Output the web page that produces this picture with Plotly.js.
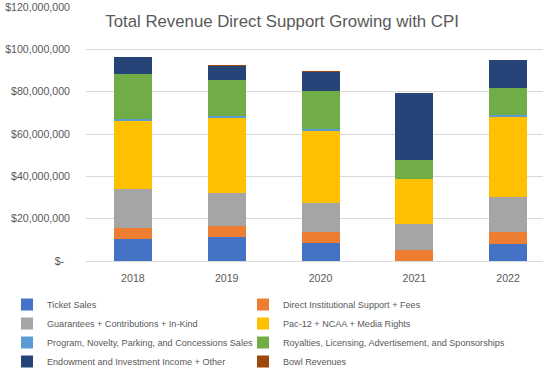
<!DOCTYPE html>
<html>
<head>
<meta charset="utf-8">
<script src="https://cdn.plot.ly/plotly-3.0.1.min.js"></script>
<style>html,body{margin:0;padding:0;background:#fff;}#chart{width:543px;height:382px;}</style>
</head>
<body>
<div id="chart"></div>
<script>
const years = ['2018', '2019', '2020', '2021', '2022'];
const ticketSales = [10.4e6, 11.3e6, 8.5e6, 0, 8.0e6];
const directSupport = [5.2e6, 5.2e6, 5.2e6, 5.2e6, 5.7e6];
const guarantees = [18.4e6, 15.7e6, 13.7e6, 12.3e6, 16.6e6];
const pac12Media = [32.2e6, 35.4e6, 34.1e6, 21.3e6, 37.8e6];
const programSales = [0.9e6, 0.95e6, 0.9e6, 0, 0.9e6];
const royalties = [21.3e6, 17.0e6, 18.0e6, 9.0e6, 12.8e6];
const endowment = [8.1e6, 6.6e6, 9.0e6, 31.6e6, 13.2e6];
const bowlRevenues = [0, 0.5e6, 0.5e6, 0, 0];

const seriesNames = [
  'Ticket Sales',
  'Direct Institutional Support + Fees',
  'Guarantees + Contributions + In-Kind',
  'Pac-12 + NCAA + Media Rights',
  'Program, Novelty, Parking, and Concessions Sales',
  'Royalties, Licensing, Advertisement, and Sponsorships',
  'Endowment and Investment Income + Other',
  'Bowl Revenues'
];
const seriesValues = [ticketSales, directSupport, guarantees, pac12Media, programSales, royalties, endowment, bowlRevenues];
const seriesColors = ['#4472C4', '#ED7D31', '#A5A5A5', '#FFC000', '#5B9BD5', '#70AD47', '#264478', '#9E480E'];

const tickVals = [0, 20e6, 40e6, 60e6, 80e6, 100e6, 120e6];
const tickText = ['$-\u00a0\u00a0', '$20,000,000', '$40,000,000', '$60,000,000', '$80,000,000', '$100,000,000', '$120,000,000'];

// legend column: even-indexed series in the left column, odd in the right
const traces = seriesNames.map((name, i) => ({
  type: 'bar',
  name: name,
  x: years,
  y: seriesValues[i],
  width: 0.405,
  legend: (i % 2 === 0) ? 'legend' : 'legend2',
  marker: {color: seriesColors[i], line: {width: 0}},
  hoverinfo: 'x+y+name'
}));

const font = 'Liberation Sans, Arial, sans-serif';
const legendFont = {family: font, size: 9.1, color: '#595959'};
const layout = {
  width: 543,
  height: 382,
  barmode: 'stack',
  paper_bgcolor: '#ffffff',
  plot_bgcolor: '#ffffff',
  margin: {l: 86, r: 0, t: 7, b: 121},
  title: {
    text: 'Total Revenue Direct Support Growing with CPI',
    font: {family: font, size: 16.8, color: '#595959'},
    x: 0.429, xanchor: 'center', xref: 'paper',
    y: 0.945, yanchor: 'middle'
  },
  xaxis: {
    type: 'category',
    range: [-0.5, 4.372],
    showgrid: false,
    showline: false,
    zeroline: false,
    ticks: '',
    ticklabelstandoff: 9,
    tickfont: {family: font, size: 10.6, color: '#595959'},
    fixedrange: true
  },
  yaxis: {
    range: [0, 120e6],
    tickvals: tickVals,
    ticktext: tickText,
    showgrid: true,
    gridcolor: '#D9D9D9',
    gridwidth: 1,
    zeroline: true,
    zerolinecolor: '#D9D9D9',
    zerolinewidth: 1,
    showline: false,
    ticks: '',
    ticklabelstandoff: 15,
    tickfont: {family: font, size: 10.6, color: '#595959'},
    fixedrange: true
  },
  showlegend: true,
  legend: {
    orientation: 'v',
    traceorder: 'normal',
    x: -0.1729, xref: 'paper', xanchor: 'left',
    y: -0.1142, yref: 'paper', yanchor: 'top',
    itemwidth: 30,
    font: legendFont,
    bgcolor: 'rgba(0,0,0,0)'
  },
  legend2: {
    orientation: 'v',
    traceorder: 'normal',
    x: 0.3435, xref: 'paper', xanchor: 'left',
    y: -0.1142, yref: 'paper', yanchor: 'top',
    itemwidth: 30,
    font: legendFont,
    bgcolor: 'rgba(0,0,0,0)'
  }
};

Plotly.newPlot('chart', traces, layout, {displayModeBar: false, staticPlot: true});
</script>
</body>
</html>
